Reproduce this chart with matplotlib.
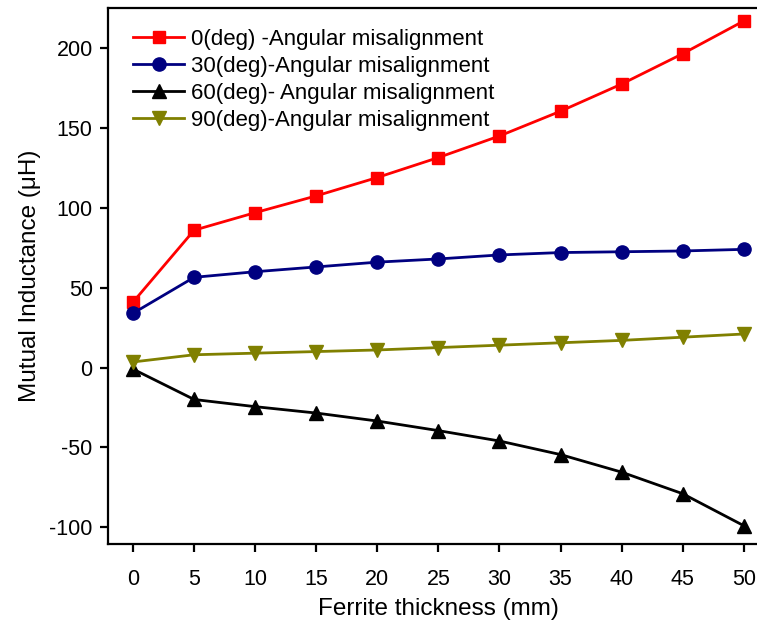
import matplotlib.pyplot as plt

plt.rcParams['font.family'] = ['Liberation Sans', 'DejaVu Sans']
plt.rcParams['axes.unicode_minus'] = False

thickness = [0, 5, 10, 15, 20, 25, 30, 35, 40, 45, 50]
m_0deg = [41, 86, 97, 107.5, 119, 131.5, 145, 160.5, 177.5, 196.5, 217]
m_30deg = [34, 56.5, 60, 63, 66, 68, 70.5, 72, 72.5, 73, 74]
m_60deg = [-1, -20, -24.5, -28.5, -33.5, -39.5, -46, -54.5, -65.5, -79, -99]
m_90deg = [3.5, 8, 9, 10, 11, 12.5, 14, 15.5, 17, 19, 21]

labels = ['0(deg) -Angular misalignment',
          '30(deg)-Angular misalignment',
          '60(deg)- Angular misalignment',
          '90(deg)-Angular misalignment']

fig = plt.figure(figsize=(7.57, 6.23), dpi=100)
ax = fig.add_axes([0.1427, 0.1268, 0.872, 0.860])

ax.plot(thickness, m_0deg, 's-', color='#ff0000', lw=2, ms=9, label=labels[0])
ax.plot(thickness, m_30deg, 'o-', color='#000080', lw=2, ms=9.5, label=labels[1])
ax.plot(thickness, m_60deg, '^-', color='black', lw=2, ms=10, label=labels[2])
ax.plot(thickness, m_90deg, 'v-', color='#808000', lw=2, ms=10, label=labels[3])

ax.set_xlim(-2.05, 52)
ax.set_ylim(-110.5, 225)
ax.set_xticks(thickness)
ax.set_yticks([-100, -50, 0, 50, 100, 150, 200])

for s in ax.spines.values():
    s.set_linewidth(1.6)
ax.tick_params(direction='out', length=6, width=1.6, labelsize=15.5, pad=5)
ax.tick_params(axis='x', pad=12)

ax.set_xlabel('Ferrite thickness (mm)', fontsize=17.5, labelpad=6)
ax.set_ylabel('Mutual Inductance (\u03bcH)', fontsize=17.5, labelpad=6)

ax.legend(loc='upper left', bbox_to_anchor=(0.018, 0.986), frameon=False,
          fontsize=16, handlelength=2.3, handletextpad=0.3, labelspacing=0.27,
          borderaxespad=0.2)

fig.savefig('out.png', dpi=100)
